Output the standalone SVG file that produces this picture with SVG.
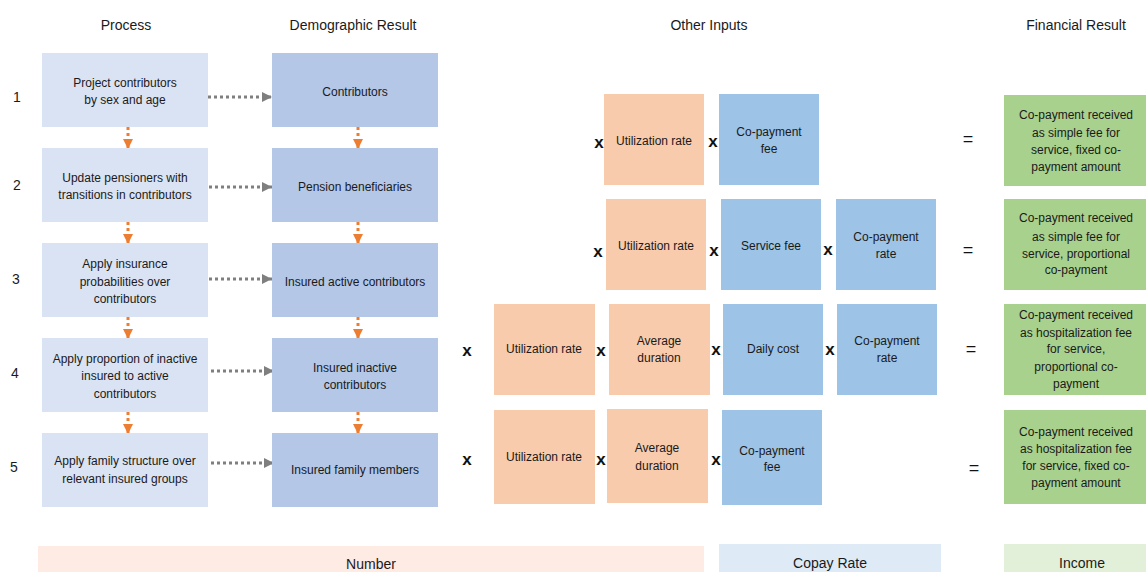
<svg xmlns="http://www.w3.org/2000/svg" width="1146" height="572" viewBox="0 0 1146 572">
<defs>
<style>
text{font-family:"Liberation Sans",Arial,sans-serif;fill:#1a1a1a;text-anchor:middle}
.h{font-size:14px}
.t{font-size:12px}
.n{font-size:14px}
.op{font-size:17px;font-weight:bold;fill:#111}
.eq{font-size:18px;fill:#111}
.proc{fill:#DAE3F3}
.demo{fill:#B4C7E7}
.org{fill:#F8CBAD}
.blu{fill:#9DC3E6}
.grn{fill:#A9D18E}
.gray{stroke:#7F7F7F;stroke-width:3;stroke-dasharray:3 3;fill:none}
.orng{stroke:#ED7D31;stroke-width:3;stroke-dasharray:3 3;fill:none}
</style>
<marker id="ag" markerUnits="userSpaceOnUse" markerWidth="10" markerHeight="10" refX="10" refY="5" orient="auto"><path d="M0,0 L10,5 L0,10 Z" fill="#7F7F7F"/></marker>
<marker id="ao" markerUnits="userSpaceOnUse" markerWidth="10" markerHeight="10" refX="10" refY="5" orient="auto"><path d="M0,0 L10,5 L0,10 Z" fill="#ED7D31"/></marker>
</defs>
<rect width="1146" height="572" fill="#fff"/>

<g id="headers">
<text class="h" x="126" y="30">Process</text>
<text class="h" x="353" y="30">Demographic Result</text>
<text class="h" x="709" y="30">Other Inputs</text>
<text class="h" x="1076" y="30">Financial Result</text>
</g>

<g id="row-numbers">
<text class="n" x="17" y="102">1</text>
<text class="n" x="17" y="190">2</text>
<text class="n" x="16" y="284">3</text>
<text class="n" x="15" y="378">4</text>
<text class="n" x="14" y="472">5</text>
</g>

<g id="connectors">
<line class="gray" x1="208" y1="97" x2="272" y2="97" marker-end="url(#ag)"/>
<line class="gray" x1="209" y1="187" x2="272" y2="187" marker-end="url(#ag)"/>
<line class="gray" x1="209" y1="279" x2="272" y2="279" marker-end="url(#ag)"/>
<line class="gray" x1="211" y1="371" x2="274" y2="371" marker-end="url(#ag)"/>
<line class="gray" x1="211" y1="463" x2="274" y2="463" marker-end="url(#ag)"/>
<line class="orng" x1="128" y1="121" x2="128" y2="149" marker-end="url(#ao)"/>
<line class="orng" x1="128" y1="216" x2="128" y2="244" marker-end="url(#ao)"/>
<line class="orng" x1="128" y1="311" x2="128" y2="339" marker-end="url(#ao)"/>
<line class="orng" x1="128" y1="406" x2="128" y2="434" marker-end="url(#ao)"/>
<line class="orng" x1="358" y1="121" x2="358" y2="149" marker-end="url(#ao)"/>
<line class="orng" x1="358" y1="216" x2="358" y2="244" marker-end="url(#ao)"/>
<line class="orng" x1="358" y1="311" x2="358" y2="339" marker-end="url(#ao)"/>
<line class="orng" x1="358" y1="406" x2="358" y2="434" marker-end="url(#ao)"/>
</g>

<g id="p1"><rect class="proc" x="42" y="53" width="166" height="74"/><text class="t" x="125" y="87">Project contributors</text><text class="t" x="125" y="104">by sex and age</text></g>
<g id="p2"><rect class="proc" x="42" y="148" width="166" height="74"/><text class="t" x="125" y="182">Update pensioners with</text><text class="t" x="125" y="199">transitions in contributors</text></g>
<g id="p3"><rect class="proc" x="42" y="243" width="166" height="74"/><text class="t" x="125" y="268">Apply insurance</text><text class="t" x="125" y="286">probabilities over</text><text class="t" x="125" y="303">contributors</text></g>
<g id="p4"><rect class="proc" x="42" y="338" width="166" height="74"/><text class="t" x="125" y="363">Apply proportion of inactive</text><text class="t" x="125" y="380">insured to active</text><text class="t" x="125" y="398">contributors</text></g>
<g id="p5"><rect class="proc" x="42" y="433" width="166" height="74"/><text class="t" x="125" y="465">Apply family structure over</text><text class="t" x="125" y="483">relevant insured groups</text></g>

<g id="d1"><rect class="demo" x="272" y="53" width="166" height="74"/><text class="t" x="355" y="96">Contributors</text></g>
<g id="d2"><rect class="demo" x="272" y="148" width="166" height="74"/><text class="t" x="355" y="191">Pension beneficiaries</text></g>
<g id="d3"><rect class="demo" x="272" y="243" width="166" height="74"/><text class="t" x="355" y="286">Insured active contributors</text></g>
<g id="d4"><rect class="demo" x="272" y="338" width="166" height="74"/><text class="t" x="355" y="372">Insured inactive</text><text class="t" x="355" y="389">contributors</text></g>
<g id="d5"><rect class="demo" x="272" y="433" width="166" height="74"/><text class="t" x="355" y="474">Insured family members</text></g>

<g id="rowA">
<rect class="org" x="604" y="94" width="100" height="91"/><text class="t" x="654" y="145">Utilization rate</text>
<rect class="blu" x="719" y="94" width="100" height="91"/><text class="t" x="769" y="136">Co-payment</text><text class="t" x="769" y="153">fee</text>
<text class="op" x="599" y="148">x</text><text class="op" x="713" y="147">x</text>
<text class="eq" x="968" y="145">=</text>
</g>
<g id="rowB">
<rect class="org" x="606" y="199" width="100" height="91"/><text class="t" x="656" y="250">Utilization rate</text>
<rect class="blu" x="721" y="199" width="100" height="91"/><text class="t" x="771" y="250">Service fee</text>
<rect class="blu" x="836" y="199" width="100" height="91"/><text class="t" x="886" y="241">Co-payment</text><text class="t" x="886" y="258">rate</text>
<text class="op" x="598" y="257">x</text><text class="op" x="714" y="256">x</text><text class="op" x="828" y="255">x</text>
<text class="eq" x="968" y="256">=</text>
</g>
<g id="rowC">
<rect class="org" x="494" y="304" width="101" height="91"/><text class="t" x="544" y="353">Utilization rate</text>
<rect class="org" x="609" y="304" width="101" height="91"/><text class="t" x="659" y="345">Average</text><text class="t" x="659" y="362">duration</text>
<rect class="blu" x="723" y="304" width="100" height="91"/><text class="t" x="773" y="353">Daily cost</text>
<rect class="blu" x="837" y="304" width="100" height="91"/><text class="t" x="887" y="345">Co-payment</text><text class="t" x="887" y="362">rate</text>
<text class="op" x="467" y="356">x</text><text class="op" x="601" y="356">x</text><text class="op" x="716" y="355">x</text><text class="op" x="830" y="355">x</text>
<text class="eq" x="971" y="355">=</text>
</g>
<g id="rowD">
<rect class="org" x="494" y="410" width="101" height="94"/><text class="t" x="544" y="461">Utilization rate</text>
<rect class="org" x="607" y="409" width="101" height="94"/><text class="t" x="657" y="452">Average</text><text class="t" x="657" y="470">duration</text>
<rect class="blu" x="722" y="410" width="100" height="95"/><text class="t" x="772" y="455">Co-payment</text><text class="t" x="772" y="471">fee</text>
<text class="op" x="467" y="465">x</text><text class="op" x="601" y="465">x</text><text class="op" x="716" y="465">x</text>
<text class="eq" x="974" y="474">=</text>
</g>

<g id="f1"><rect class="grn" x="1004" y="95" width="142" height="91"/><text class="t" x="1076" y="119">Co-payment received</text><text class="t" x="1076" y="137">as simple fee for</text><text class="t" x="1076" y="154">service, fixed co-</text><text class="t" x="1076" y="171">payment amount</text></g>
<g id="f2"><rect class="grn" x="1004" y="199" width="142" height="91"/><text class="t" x="1076" y="222">Co-payment received</text><text class="t" x="1076" y="241">as simple fee for</text><text class="t" x="1076" y="258">service, proportional</text><text class="t" x="1076" y="274">co-payment</text></g>
<g id="f3"><rect class="grn" x="1004" y="304" width="142" height="91"/><text class="t" x="1076" y="319">Co-payment received</text><text class="t" x="1076" y="337">as hospitalization fee</text><text class="t" x="1076" y="353">for service,</text><text class="t" x="1076" y="371">proportional co-</text><text class="t" x="1076" y="388">payment</text></g>
<g id="f4"><rect class="grn" x="1004" y="410" width="142" height="94"/><text class="t" x="1076" y="436">Co-payment received</text><text class="t" x="1076" y="453">as hospitalization fee</text><text class="t" x="1076" y="470">for service, fixed co-</text><text class="t" x="1076" y="487">payment amount</text></g>

<g id="legend">
<rect x="38" y="546" width="666" height="26" fill="#FDEBE4"/><text class="h" x="371" y="569">Number</text>
<rect x="719" y="544" width="222" height="28" fill="#DEEBF7"/><text class="h" x="830" y="568">Copay Rate</text>
<rect x="1004" y="544" width="142" height="28" fill="#E2F0D9"/><text class="h" x="1082" y="568">Income</text>
</g>
</svg>
